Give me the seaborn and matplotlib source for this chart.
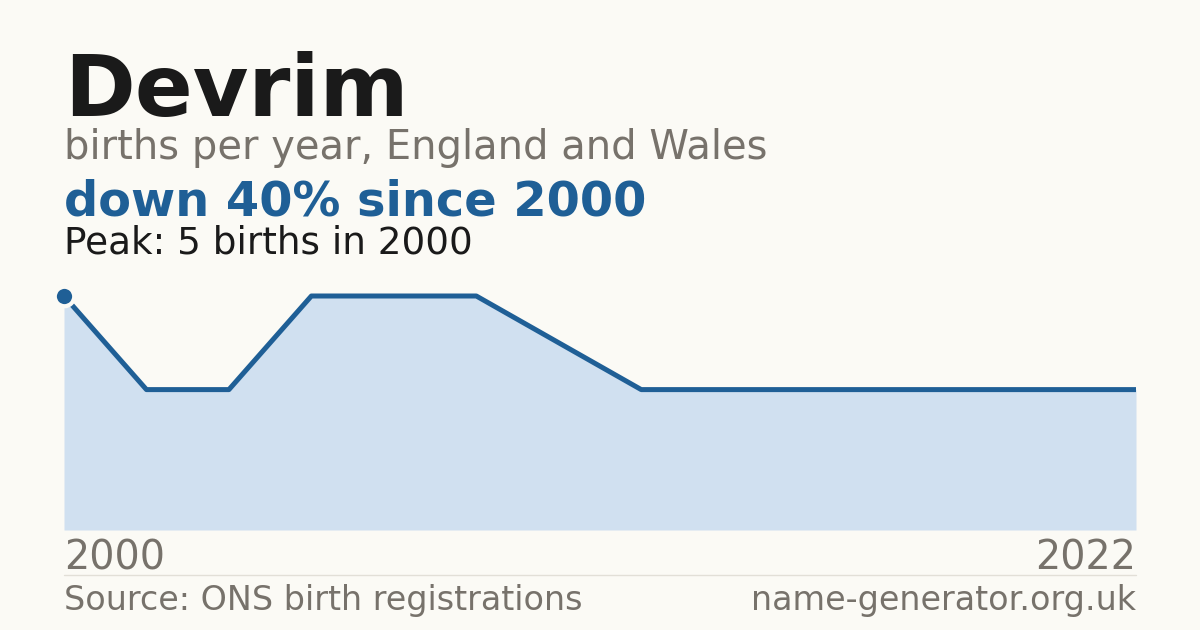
import matplotlib
matplotlib.use("Agg")
import matplotlib.pyplot as plt
import seaborn as sns
import pandas as pd

counts = [5, 3, 3, 5, 5, 5, 4, 3, 3, 3, 3, 3, 3, 3]
first_year = "2000"
last_year = "2022"
name = "Devrim"
subtitle = "births per year, England and Wales"
headline = "down 40% since 2000"
peak_note = "Peak: 5 births in 2000"
source = "Source: ONS birth registrations"
site = "name-generator.org.uk"

BG = "#fbfaf5"
BLUE = "#1f5f96"
FILL = "#d0e0f0"
GREY = "#77726b"
INK = "#1a1a1a"

sns.set_theme(style="white")
plt.rcParams["font.family"] = ["DejaVu Sans"]

df = pd.DataFrame({"idx": range(len(counts)), "births": counts})

fig = plt.figure(figsize=(12, 6.3), dpi=100, facecolor=BG)
W, H = 1200, 630
left, right = 64 / W, 1136 / W
bottom, top = 1 - 530 / H, 1 - 296 / H
ax = fig.add_axes([left, bottom, right - left, top - bottom])
ax.set_facecolor(BG)

ax.fill_between(df["idx"], df["births"], 0, color=FILL, linewidth=0)
sns.lineplot(data=df, x="idx", y="births", ax=ax, color=BLUE, linewidth=3.6,
             clip_on=False, solid_capstyle="butt")
ax.plot(df["idx"].iloc[0], df["births"].iloc[0], "o", color=BLUE, markersize=14,
        markeredgecolor=BG, markeredgewidth=3, clip_on=False, zorder=5)

ax.set_xlim(0, len(counts) - 1)
ax.set_ylim(0, max(counts))
ax.set_axis_off()

fig.text(left, 1 - 116 / H, name, fontsize=61.5, fontweight="bold", color=INK,
         ha="left", va="baseline")
fig.text(left, 1 - 159 / H, subtitle, fontsize=28.8, color=GREY, ha="left", va="baseline")
fig.text(left, 1 - 215 / H, headline, fontsize=34.5, fontweight="bold", color=BLUE,
         ha="left", va="baseline")
fig.text(left, 1 - 254 / H, peak_note, fontsize=26.9, color=INK, ha="left", va="baseline")

fig.text(left, 1 - 570 / H, first_year, fontsize=28.5, color=GREY, ha="left", va="baseline")
fig.text(right, 1 - 570 / H, last_year, fontsize=28.5, color=GREY, ha="right", va="baseline")
fig.add_artist(plt.Line2D([left, right], [1 - 575 / H, 1 - 575 / H], color="#e2dfd7",
                          linewidth=1, transform=fig.transFigure))
fig.text(left, 1 - 610 / H, source, fontsize=24, color=GREY, ha="left", va="baseline")
fig.text(right, 1 - 610 / H, site, fontsize=24, color=GREY, ha="right", va="baseline")

fig.savefig("out.png", dpi=100, facecolor=BG)
